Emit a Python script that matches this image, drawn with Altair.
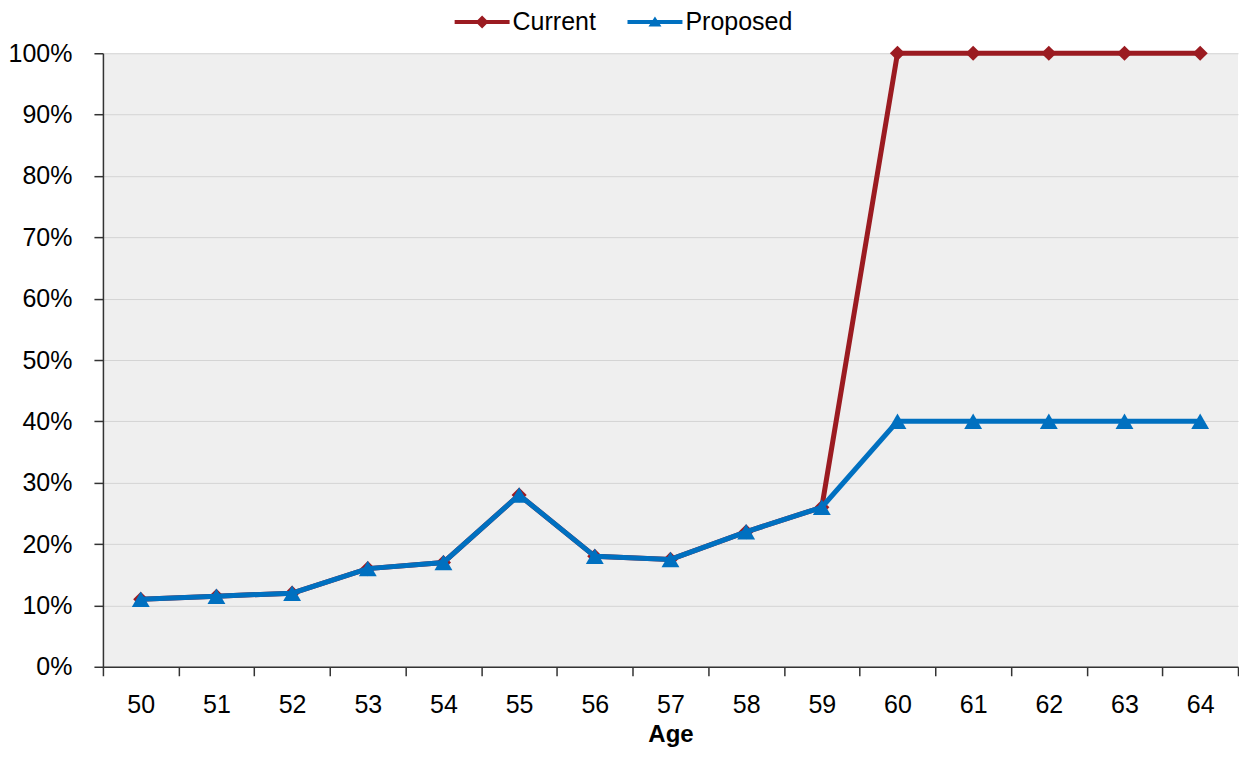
import altair as alt
import pandas as pd

ages = list(range(50, 65))
current = [11, 11.5, 12, 16, 17, 28, 18, 17.5, 22, 26, 100, 100, 100, 100, 100]
proposed = [11, 11.5, 12, 16, 17, 28, 18, 17.5, 22, 26, 40, 40, 40, 40, 40]
series = ["Current", "Proposed"]
colors = ["#9B1B21", "#0070C0"]

rows = []
for s, vals in zip(series, [current, proposed]):
    for a, v in zip(ages, vals):
        rows.append({"age": a, "series": s, "pct": v})
df = pd.DataFrame(rows)

FONT = "Liberation Sans"
FS = 25

color_scale = alt.Scale(domain=series, range=colors)
x_enc = alt.X(
    "age:O",
    bandPosition=0.5,
    scale=alt.Scale(type="band", paddingInner=0, paddingOuter=0),
    axis=alt.Axis(
        title="Age", tickBand="extent", labelAngle=0, labelFontSize=FS,
        labelFont=FONT, labelColor="black", titleFont=FONT, titleFontSize=24,
        titleFontWeight="bold", titleColor="black", tickSize=9, tickColor="#333333",
        tickWidth=1.5, domainColor="#333333", domainWidth=1.5, labelPadding=17,
        titlePadding=5, grid=False,
    ),
)
y_enc = alt.Y(
    "v:Q",
    scale=alt.Scale(domain=[0, 1]),
    axis=alt.Axis(
        title=None, format=".0%", values=[i / 10 for i in range(11)],
        labelFontSize=FS, labelFont=FONT, labelColor="black", tickSize=9,
        tickColor="#333333", tickWidth=1.5, domainColor="#333333", domainWidth=1.5,
        labelPadding=22, gridColor="#d4d4d4", gridWidth=1,
    ),
)

legend = alt.Legend(
    title=None, orient="none", legendX=367, legendY=-44, direction="horizontal",
    labelFont=FONT, labelFontSize=FS, labelColor="black", symbolSize=400,
    symbolOpacity=1, symbolStrokeWidth=0, labelOffset=18, columnPadding=31,
)

base = alt.Chart(df).transform_calculate(v="datum.pct / 100")

layers = []
markers = {"Current": ("diamond", 230), "Proposed": ("triangle-up", 320)}
for s in series:
    sub = base.transform_filter(alt.datum.series == s)
    layers.append(
        sub.mark_line(strokeWidth=5).encode(
            x=x_enc, y=y_enc,
            color=alt.Color("series:N", scale=color_scale, legend=legend),
        )
    )
    shp, sz = markers[s]
    layers.append(
        sub.mark_point(filled=True, shape=shp, size=sz, opacity=1).encode(
            x=x_enc, y=y_enc,
            color=alt.Color("series:N", scale=color_scale, legend=legend),
        )
    )

legend_paths = [
    "M-2.75,-0.2H2.75V0.2H-2.75Z M0,-0.65L0.65,0L0,0.65L-0.65,0Z",
    "M-2.75,-0.2H2.75V0.2H-2.75Z M0,-0.55L0.65,0.45L-0.65,0.45Z",
]
layers.append(
    base.mark_point(filled=True, opacity=0).encode(
        x=x_enc, y=y_enc,
        color=alt.Color("series:N", scale=color_scale, legend=legend),
        shape=alt.Shape("series:N", scale=alt.Scale(domain=series, range=legend_paths), legend=legend),
    )
)

chart = alt.layer(*layers).properties(
    width=1136, height=614,
    padding={"left": 0, "top": 1, "right": 0, "bottom": 0},
).configure_view(
    fill="#efefef", stroke=None,
)

chart.save("out.html", embed_options={"renderer": "svg", "actions": False})
